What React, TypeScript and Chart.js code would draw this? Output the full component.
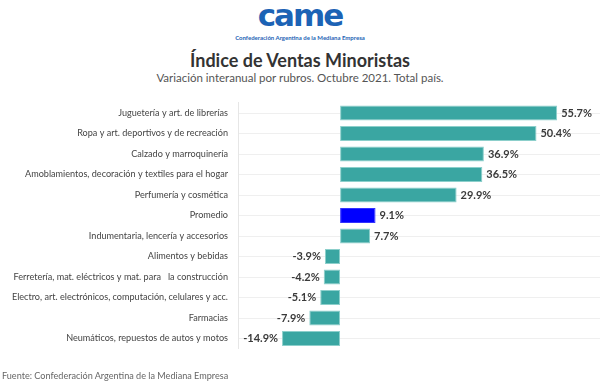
import React, { useEffect, useRef } from "react";
import { Chart, registerables } from "chart.js";

Chart.register(...registerables);

const categories = [
  "Juguetería y art. de librerías",
  "Ropa y art. deportivos y de recreación",
  "Calzado y marroquinería",
  "Amoblamientos, decoración y textiles para el hogar",
  "Perfumería y cosmética",
  "Promedio",
  "Indumentaria, lencería y accesorios",
  "Alimentos y bebidas",
  "Ferretería, mat. eléctricos y mat. para   la construcción",
  "Electro, art. electrónicos, computación, celulares y acc.",
  "Farmacias",
  "Neumáticos, repuestos de autos y motos",
];
const values = [55.7, 50.4, 36.9, 36.5, 29.9, 9.1, 7.7, -3.9, -4.2, -5.1, -7.9, -14.9];
const highlight = "Promedio";
const TEAL = "#3aa6a2";
const BLUE = "#0000ff";
const FONT = "Lato, 'Open Sans', sans-serif";

const labelPlugin = {
  id: "valueLabels",
  afterDatasetsDraw(chart: any) {
    const ctx = chart.ctx;
    const meta = chart.getDatasetMeta(0);
    ctx.save();
    ctx.font = `bold 11px ${FONT}`;
    ctx.fillStyle = "#3a3a3a";
    ctx.textBaseline = "middle";
    meta.data.forEach((bar: any, i: number) => {
      const v = values[i];
      const txt = v.toFixed(1) + "%";
      if (v >= 0) {
        ctx.textAlign = "left";
        ctx.fillText(txt, bar.x + 4, bar.y);
      } else {
        ctx.textAlign = "right";
        ctx.fillText(txt, bar.x - 4, bar.y);
      }
    });
    ctx.restore();
  },
};

export default function App() {
  const ref = useRef<HTMLCanvasElement>(null);
  useEffect(() => {
    document.body.style.margin = "0";
    const chart = new Chart(ref.current!, {
      type: "bar",
      data: {
        labels: categories,
        datasets: [
          {
            data: values,
            backgroundColor: categories.map((c) => (c === highlight ? BLUE : TEAL)),
            borderColor: categories.map((c) => (c === highlight ? "#3333ff" : "#8ccfcb")),
            borderWidth: 1,
            borderSkipped: false,
            barPercentage: 1,
            categoryPercentage: 0.73,
          },
        ],
      },
      options: {
        indexAxis: "y",
        responsive: false,
        animation: false,
        maintainAspectRatio: false,
        layout: { padding: { top: 102.75, bottom: 33.25, left: 0, right: 0 } },
        plugins: { legend: { display: false }, tooltip: { enabled: false }, title: { display: false } },
        scales: {
          x: {
            display: false,
            min: -26.2,
            max: 66.7,
          },
          y: {
            afterFit(scale: any) {
              scale.width = 238;
            },
            ticks: {
              color: "#444",
              font: { family: FONT, size: 9.1 },
              padding: 10,
              autoSkip: false,
            },
            grid: { color: "#efefef", drawTicks: false, offset: false },
            border: { display: true, color: "#e6e6e6" },
          },
        },
      },
      plugins: [labelPlugin],
    } as any);
    return () => chart.destroy();
  }, []);

  return (
    <div style={{ position: "relative", width: 600, height: 382, background: "#fff", overflow: "hidden" }}>
      <div
        style={{
          position: "absolute",
          left: 0,
          width: 600,
          top: -3,
          textAlign: "center",
          fontFamily: "'DejaVu Sans', Arial, sans-serif",
          fontWeight: 900,
          fontSize: 31,
          color: "#1c63b5",
          letterSpacing: -2,
          lineHeight: "36px",
        }}
      >
        came
      </div>
      <div
        style={{
          position: "absolute",
          left: 0,
          width: 600,
          top: 34,
          textAlign: "center",
          fontFamily: FONT,
          fontWeight: 700,
          fontSize: 6,
          color: "#1c63b5",
          lineHeight: "7px",
        }}
      >
        Confederación Argentina de la Mediana Empresa
      </div>
      <div
        style={{
          position: "absolute",
          left: 0,
          width: 600,
          top: 49,
          textAlign: "center",
          fontFamily: FONT,
          fontWeight: 700,
          fontSize: 18,
          color: "#333",
          lineHeight: "22px",
        }}
      >
        Índice de Ventas Minoristas
      </div>
      <div
        style={{
          position: "absolute",
          left: 0,
          width: 600,
          top: 70,
          textAlign: "center",
          fontFamily: FONT,
          fontSize: 11.5,
          color: "#555",
          lineHeight: "15px",
        }}
      >
        Variación interanual por rubros. Octubre 2021. Total país.
      </div>
      <canvas ref={ref} width={600} height={382} style={{ position: "absolute", left: 0, top: 0 }} />
      <div
        style={{
          position: "absolute",
          left: 2,
          top: 370,
          fontFamily: FONT,
          fontSize: 9.1,
          color: "#666",
          lineHeight: "11px",
        }}
      >
        Fuente: Confederación Argentina de la Mediana Empresa
      </div>
    </div>
  );
}
